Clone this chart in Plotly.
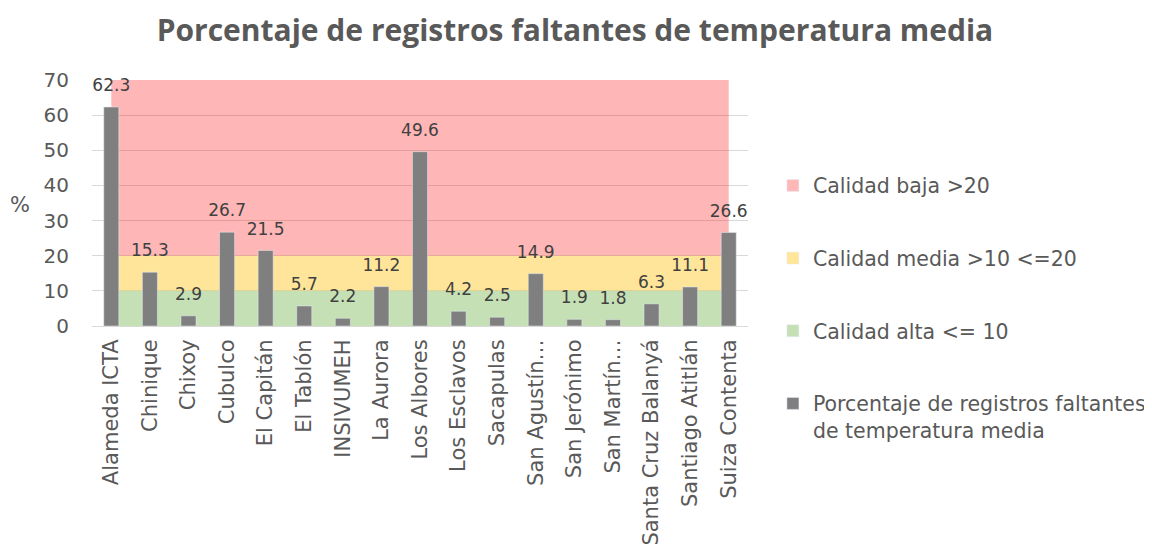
import plotly.graph_objects as go

categories = ["Alameda ICTA", "Chinique", "Chixoy", "Cubulco", "El Capitán", "El Tablón",
              "INSIVUMEH", "La Aurora", "Los Albores", "Los Esclavos", "Sacapulas",
              "San Agustín…", "San Jerónimo", "San Martín…", "Santa Cruz Balanyá",
              "Santiago Atitlán", "Suiza Contenta"]
faltantes = [62.3, 15.3, 2.9, 26.7, 21.5, 5.7, 2.2, 11.2, 49.6, 4.2, 2.5, 14.9, 1.9, 1.8, 6.3, 11.1, 26.6]
calidad_alta = [10] * 17
calidad_media = [10] * 17
calidad_baja = [50] * 17

FONT = "DejaVu Sans"
TITLE_FONT = "Open Sans"
GRAY_TXT = "#595959"

fig = go.Figure()

band_specs = [
    ("Calidad alta <= 10", calidad_alta, "rgba(135,190,100,0.48)", "#C5E0B4", 3),
    ("Calidad media >10 <=20", calidad_media, "rgba(255,205,60,0.52)", "#FFE699", 2),
    ("Calidad baja >20", calidad_baja, "rgba(255,0,0,0.285)", "#FFB7B7", 1),
]
for name, vals, fill, solid, rank in band_specs:
    fig.add_trace(go.Scatter(x=categories, y=vals, stackgroup="bands", mode="none",
                             fillcolor=fill, name=name, showlegend=False, hoverinfo="skip",
                             xaxis="x", yaxis="y"))
    fig.add_trace(go.Bar(x=[categories[0]], y=[None], name=name, marker_color=solid,
                         legendgroup=name, legendrank=rank, showlegend=True,
                         xaxis="x2", yaxis="y2"))

fig.add_trace(go.Bar(x=categories, y=faltantes, width=0.39, marker_color="#7F7F7F",
                     name="Porcentaje de registros faltantes<br>de temperatura media",
                     legendgroup="pct", legendrank=4,
                     xaxis="x2", yaxis="y2"))

# data labels, lifted above bars by an invisible marker
fig.add_trace(go.Scatter(x=categories, y=faltantes, mode="markers+text",
                         marker=dict(size=17, opacity=0),
                         text=[f"{v:.1f}" for v in faltantes], textposition="top center",
                         textfont=dict(family=FONT, size=17, color="#404040"),
                         cliponaxis=False, showlegend=False, hoverinfo="skip",
                         xaxis="x2", yaxis="y2"))

fig.update_layout(
    width=1144, height=538,
    paper_bgcolor="white", plot_bgcolor="white",
    margin=dict(l=84, r=404, t=72, b=220, autoexpand=False),
    barmode="overlay",
    title=dict(text="<b>Porcentaje de registros faltantes de temperatura media</b>",
               x=0.4956, xref="container", xanchor="center", y=0.959, yanchor="middle",
               font=dict(family=TITLE_FONT, size=30, color=GRAY_TXT)),
    font=dict(family=FONT, size=21, color=GRAY_TXT),
    xaxis=dict(type="category", categoryorder="array", categoryarray=categories,
               range=[-0.5, 16.5], tickangle=-90, showgrid=False, automargin=False,
               showline=True, linecolor="#D9D9D9", linewidth=1, ticks="",
               ticklabelstandoff=4,
               tickfont=dict(family=FONT, size=21, color=GRAY_TXT)),
    yaxis=dict(range=[0, 70], dtick=10, showgrid=True, gridcolor="#D9D9D9", gridwidth=1,
               zeroline=False, showline=False, ticks="", ticklabelstandoff=22,
               automargin=False,
               tickfont=dict(family=FONT, size=20, color=GRAY_TXT)),
    xaxis2=dict(type="category", categoryorder="array", categoryarray=categories,
                range=[-0.5, 16.5], overlaying="x", visible=False),
    yaxis2=dict(range=[0, 70], overlaying="y", visible=False),
    legend=dict(x=1.038, xanchor="left", y=0.652, yanchor="top",
                traceorder="grouped", tracegroupgap=43, valign="top",
                font=dict(family=FONT, size=20.5, color=GRAY_TXT),
                itemwidth=30, bgcolor="rgba(0,0,0,0)", maxheight=500),
    annotations=[dict(text="%", xref="paper", yref="paper", x=-0.1098, y=0.492,
                      xanchor="center", yanchor="middle", showarrow=False,
                      font=dict(family=FONT, size=21, color=GRAY_TXT))],
    showlegend=True,
)

fig.write_html("out.html")
